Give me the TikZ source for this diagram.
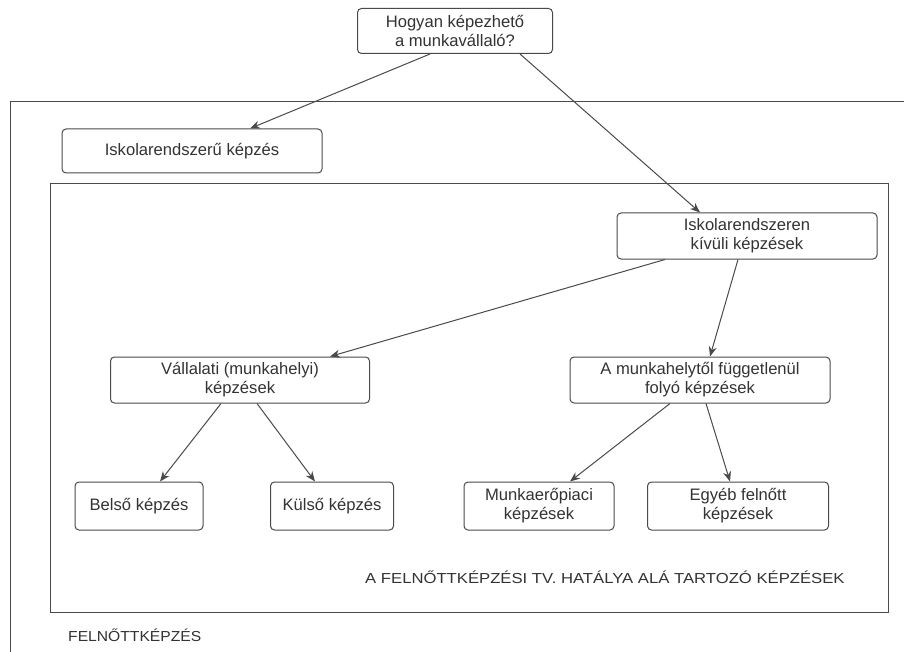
\documentclass[tikz,border=0pt]{standalone}
\usepackage{fontspec}
\setmainfont{Liberation Sans}
\usetikzlibrary{arrows.meta}
\definecolor{linec}{HTML}{4A4A4A}
\definecolor{textc}{HTML}{333333}
\begin{document}
\begin{tikzpicture}[x=1pt,y=-1pt,
  box/.style={draw=linec, rounded corners=4pt, line width=1pt, inner sep=0pt,
    text=textc, font=\fontsize{16.6}{19}\selectfont, align=center},
  arr/.style={-{Stealth[length=10pt,width=8pt]}, draw=linec, line width=1pt},
  frame/.style={draw=linec, line width=1pt},
  lbl/.style={text=textc, font=\fontsize{14.5}{16}\selectfont, inner sep=0pt}]
\useasboundingbox (0,0) rectangle (904,652);
\fill[white] (0,0) rectangle (904,652);
% frames
\draw[frame] (904,102) -- (10,102) -- (10,652);
\draw[frame] (50,184) rectangle (888,612);
% nodes
\node[box, minimum width=195pt, minimum height=45pt] (top) at (455,31) {Hogyan képezhető\\a munkavállaló?};
\node[box, minimum width=260pt, minimum height=44pt] (isk) at (192,151) {Iskolarendszerű képzés};
\node[box, minimum width=260pt, minimum height=46pt] (kiv) at (747,236) {Iskolarendszeren\\kívüli képzések};
\node[box, minimum width=259pt, minimum height=46pt] (vall) at (240,380) {Vállalati (munkahelyi)\\képzések};
\node[box, minimum width=260pt, minimum height=46pt] (munk) at (700,380) {A munkahelytől függetlenül\\folyó képzések};
\node[box, minimum width=128pt, minimum height=48pt] (bel) at (139,506) {Belső képzés};
\node[box, minimum width=123pt, minimum height=48pt] (kul) at (332,506) {Külső képzés};
\node[box, minimum width=150pt, minimum height=48pt] (mp) at (539,506) {Munkaerőpiaci\\képzések};
\node[box, minimum width=181pt, minimum height=48pt] (egy) at (738,506) {Egyéb felnőtt\\képzések};
\node[lbl, anchor=west] (tv) at (365,577) {\scalebox{1.15}[1]{A FELNŐTTKÉPZÉSI TV. HATÁLYA ALÁ TARTOZÓ KÉPZÉSEK}};
\node[lbl, anchor=west] (fk) at (68,635) {\scalebox{1.08}[1]{FELNŐTTKÉPZÉS}};
% arrows
\draw[arr] ([xshift=-25pt]top.south) -- ([xshift=58pt]isk.north);
\draw[arr] ([xshift=65pt]top.south) -- ([xshift=-47pt]kiv.north);
\draw[arr] ([xshift=-82pt]kiv.south) -- ([xshift=90pt]vall.north);
\draw[arr] ([xshift=-9pt]kiv.south) -- ([xshift=10pt]munk.north);
\draw[arr] ([xshift=-19pt]vall.south) -- ([xshift=21pt]bel.north);
\draw[arr] ([xshift=17pt]vall.south) -- ([xshift=-17pt]kul.north);
\draw[arr] ([xshift=-30pt]munk.south) -- ([xshift=31pt]mp.north);
\draw[arr] ([xshift=6pt]munk.south) -- ([xshift=-8pt]egy.north);
\end{tikzpicture}
\end{document}
